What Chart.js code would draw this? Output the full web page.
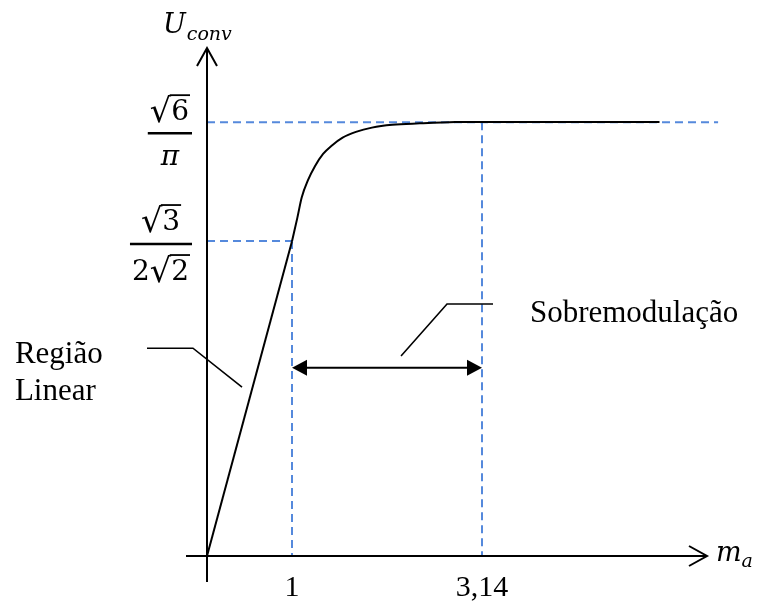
<!DOCTYPE html>
<html>
<head>
<meta charset="utf-8">
<script src="https://cdn.jsdelivr.net/npm/chart.js@4/dist/chart.umd.min.js"></script>
<style>
  html, body { margin: 0; padding: 0; background: #fff; }
  #wrap { width: 760px; height: 611px; }
</style>
</head>
<body>
<div id="wrap"><canvas id="c" width="760" height="611"></canvas></div>
<script>
// Converter output U_conv against modulation index m_a:
// linear region up to m_a = 1, then overmodulation saturating at sqrt(6)/pi.
const LIN = Math.sqrt(3) / (2 * Math.sqrt(2));   // level at the end of the linear region
const SAT = Math.sqrt(6) / Math.PI;               // saturation level

const xTicks = [1, 3.14];
const xTickLabels = ['1', '3,14'];

// linear region
const linM = [0, 1];
const linU = [0, 0.612];
// overmodulation region
const overM = [1, 1.06, 1.11, 1.18, 1.26, 1.35, 1.45, 1.57, 1.72, 1.90, 2.13, 2.44, 2.84, 3.14, 4.02, 5.14];
const overU = [0.612, 0.645, 0.674, 0.698, 0.718, 0.735, 0.747, 0.758, 0.766, 0.772, 0.776, 0.778, 0.780, 0.7805, 0.780, 0.780];

// Overmodulation span marked by the double arrow
const overStart = 1;
const overEnd = 3.14;

// The sketch is not drawn to scale: each axis is piecewise linear between
// the marked values.  [value, fraction of the axis length]
const warp = {
  x: [[0, 0], [1, 0.17], [3.14, 0.55], [5.675, 1]],
  y: [[0, 0], [LIN, 0.62], [SAT, 0.854], [1, 1]]
};

function piece(knots, v, from, to) {
  let i = 0;
  while (i < knots.length - 2 && v > knots[i + 1][from]) i++;
  const a = knots[i], b = knots[i + 1];
  const t = (v - a[from]) / (b[from] - a[from]);
  return a[to] + t * (b[to] - a[to]);
}

class SketchScale extends Chart.LinearScale {
  static id = 'sketch';
  static defaults = {};
  getPixelForValue(value) {
    if (value === null || value === undefined || isNaN(value)) return NaN;
    return this.getPixelForDecimal(piece(warp[this.axis], value, 0, 1));
  }
  getValueForPixel(pixel) {
    return piece(warp[this.axis], this.getDecimalForPixel(pixel), 1, 0);
  }
}
Chart.register(SketchScale);

const TEXT_FONT = '"Liberation Serif", "Times New Roman", serif';
const MATH_FONT = '"DejaVu Serif", serif';
const GUIDE = '#5589dc';
const GUIDE_END = 5.8;

function seg(ctx, x1, y1, x2, y2) {
  ctx.beginPath(); ctx.moveTo(x1, y1); ctx.lineTo(x2, y2); ctx.stroke();
}

// math run: parts are {t: upright}, {i: italic}, {r: radicand under a root}
function rootFont(size) { return (size * 1.2).toFixed(1) + 'px ' + MATH_FONT; }
function runWidth(ctx, parts, size) {
  let w = 0;
  for (const p of parts) {
    if (p.i) { ctx.font = 'italic ' + size + 'px ' + MATH_FONT; w += ctx.measureText(p.i).width; }
    else if (p.t) { ctx.font = size + 'px ' + MATH_FONT; w += ctx.measureText(p.t).width; }
    else {
      ctx.font = rootFont(size); w += ctx.measureText('\u221A').width;
      ctx.font = size + 'px ' + MATH_FONT; w += ctx.measureText(p.r).width + 1;
    }
  }
  return w;
}
function drawRun(ctx, parts, x, base, size) {
  for (const p of parts) {
    if (p.i) {
      ctx.font = 'italic ' + size + 'px ' + MATH_FONT;
      ctx.fillText(p.i, x, base); x += ctx.measureText(p.i).width;
    } else if (p.t) {
      ctx.font = size + 'px ' + MATH_FONT;
      ctx.fillText(p.t, x, base); x += ctx.measureText(p.t).width;
    } else {
      ctx.font = rootFont(size);
      const m = ctx.measureText('\u221A');
      ctx.fillText('\u221A', x, base + 2);
      const top = base + 2 - m.actualBoundingBoxAscent + 1;
      ctx.font = size + 'px ' + MATH_FONT;
      const rw = ctx.measureText(p.r).width;
      ctx.lineWidth = 1.8;
      seg(ctx, x + m.width - 1.5, top, x + m.width + rw + 1, top);
      ctx.fillText(p.r, x + m.width, base);
      x += m.width + rw + 1;
    }
  }
}

const yLabels = [
  { value: SAT, num: [{ r: '6' }], den: [{ i: '\u03C0' }], drop: 11, up: 13, down: 32 },
  { value: LIN, num: [{ r: '3' }], den: [{ t: '2' }, { r: '2' }], drop: 3, up: 14, down: 36 }
];

const diagram = {
  id: 'diagram',
  beforeDatasetsDraw(chart) {
    const { ctx, scales: { x, y } } = chart;
    const X = v => x.getPixelForValue(v), Y = v => y.getPixelForValue(v);
    ctx.save();
    ctx.strokeStyle = GUIDE;
    ctx.lineWidth = 2;
    ctx.setLineDash([8, 5]);
    seg(ctx, X(0), Y(SAT), X(GUIDE_END), Y(SAT));
    seg(ctx, X(0), Y(LIN), X(xTicks[0]), Y(LIN));
    seg(ctx, X(xTicks[0]), Y(LIN), X(xTicks[0]), Y(0));
    seg(ctx, X(xTicks[1]), Y(SAT), X(xTicks[1]), Y(0));
    ctx.restore();
  },
  afterDatasetsDraw(chart) {
    const { ctx, chartArea, scales: { x, y } } = chart;
    const X = v => x.getPixelForValue(v), Y = v => y.getPixelForValue(v);
    const ox = X(0), oy = Y(0);
    ctx.save();
    ctx.strokeStyle = '#000';
    ctx.fillStyle = '#000';
    ctx.lineWidth = 2;
    ctx.lineJoin = 'miter';

    // axes with open arrowheads
    seg(ctx, ox, oy + 26, ox, chartArea.top);
    ctx.beginPath();
    ctx.moveTo(ox - 10, chartArea.top + 18); ctx.lineTo(ox, chartArea.top); ctx.lineTo(ox + 10, chartArea.top + 18);
    ctx.stroke();
    seg(ctx, ox - 21, oy, chartArea.right, oy);
    ctx.beginPath();
    ctx.moveTo(chartArea.right - 18, oy - 10); ctx.lineTo(chartArea.right, oy); ctx.lineTo(chartArea.right - 18, oy + 10);
    ctx.stroke();

    // axis titles
    ctx.textAlign = 'left';
    ctx.textBaseline = 'alphabetic';
    ctx.font = 'italic 27px ' + MATH_FONT;
    ctx.fillText('U', ox - 44, chartArea.top - 15);
    const uw = ctx.measureText('U').width;
    ctx.font = 'italic 19px ' + MATH_FONT;
    ctx.fillText('conv', ox - 44 + uw + 1, chartArea.top - 8);

    ctx.font = 'italic 27px ' + MATH_FONT;
    ctx.fillText('m', chartArea.right + 9, oy + 5);
    const mw = ctx.measureText('m').width;
    ctx.font = 'italic 19px ' + MATH_FONT;
    ctx.fillText('a', chartArea.right + 9 + mw, oy + 11);

    // x tick labels
    ctx.textAlign = 'center';
    ctx.font = '30px ' + TEXT_FONT;
    x.ticks.forEach((t, i) => ctx.fillText(xTickLabels[i], X(t.value), oy + 40));

    // y tick labels as stacked fractions
    ctx.textAlign = 'left';
    for (const lab of yLabels) {
      const nw = runWidth(ctx, lab.num, 28), dw = runWidth(ctx, lab.den, 28);
      const bw = Math.max(nw, dw) + 4;
      const right = ox - 15, left = right - bw, cx = (left + right) / 2;
      const bar = Y(lab.value) + lab.drop;
      ctx.lineWidth = 2.5;
      seg(ctx, left, bar, right, bar);
      drawRun(ctx, lab.num, cx - nw / 2, bar - lab.up, 28);
      drawRun(ctx, lab.den, cx - dw / 2, bar + lab.down, 28);
    }

    // overmodulation span: double arrow with filled heads
    const ay = Y(0.366), ax1 = X(overStart), ax2 = X(overEnd);
    ctx.lineWidth = 2;
    seg(ctx, ax1 + 10, ay, ax2 - 10, ay);
    ctx.beginPath();
    ctx.moveTo(ax1, ay); ctx.lineTo(ax1 + 15, ay - 8); ctx.lineTo(ax1 + 15, ay + 8); ctx.closePath(); ctx.fill();
    ctx.beginPath();
    ctx.moveTo(ax2, ay); ctx.lineTo(ax2 - 15, ay - 8); ctx.lineTo(ax2 - 15, ay + 8); ctx.closePath(); ctx.fill();

    // callouts
    ctx.lineWidth = 1.6;
    const callouts = [
      [[-0.706, 0.404], [-0.165, 0.404], [0.412, 0.3285]],
      [[2.228, 0.389], [2.746, 0.490], [3.264, 0.490]]
    ];
    for (const c of callouts) {
      ctx.beginPath();
      c.forEach((p, i) => i ? ctx.lineTo(X(p[0]), Y(p[1])) : ctx.moveTo(X(p[0]), Y(p[1])));
      ctx.stroke();
    }
    ctx.font = '31px ' + TEXT_FONT;
    ctx.fillText('Região', X(-2.26), Y(0.375));
    ctx.fillText('Linear', X(-2.26), Y(0.303));
    ctx.fillText('Sobremodulação', X(3.68), Y(0.455));
    ctx.restore();
  }
};

const curveStyle = { borderColor: '#000', borderWidth: 2, pointRadius: 0, fill: false, clip: false };

new Chart(document.getElementById('c'), {
  type: 'line',
  data: {
    datasets: [
      Object.assign({ data: linM.map((m, i) => ({ x: m, y: linU[i] })), tension: 0 }, curveStyle),
      Object.assign({ data: overM.map((m, i) => ({ x: m, y: overU[i] })), cubicInterpolationMode: 'monotone' }, curveStyle)
    ]
  },
  options: {
    responsive: false,
    animation: false,
    devicePixelRatio: 1,
    layout: { padding: { left: 207, right: 53, top: 48, bottom: 55 } },
    plugins: { legend: { display: false }, tooltip: { enabled: false } },
    scales: {
      x: {
        type: 'sketch', min: 0, max: 5.675, display: false,
        afterBuildTicks: s => { s.ticks = xTicks.map(v => ({ value: v })); }
      },
      y: { type: 'sketch', min: 0, max: 1, display: false }
    }
  },
  plugins: [diagram]
});
</script>
</body>
</html>
